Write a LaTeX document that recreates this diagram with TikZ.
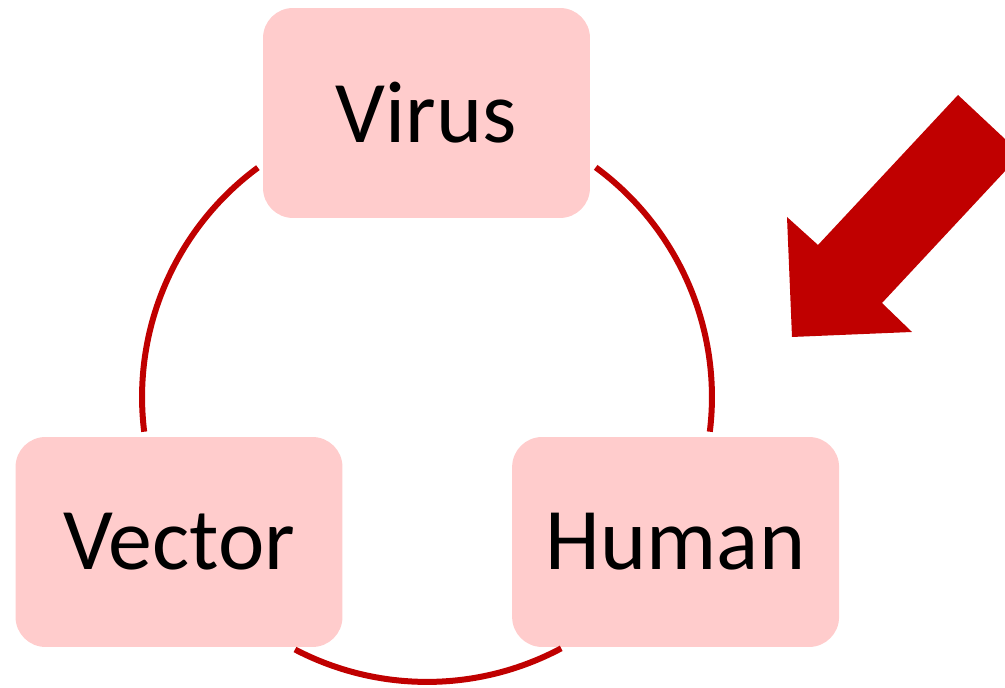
\documentclass[tikz,border=0pt]{standalone}
\usepackage{fontspec}
\setmainfont{Carlito}
\usetikzlibrary{positioning}
\definecolor{cyclered}{HTML}{C00000}
\definecolor{boxpink}{HTML}{FFCCCC}
\tikzstyle{stage} = [rectangle, fill=boxpink, rounded corners=0.6cm,
    minimum width=6.54cm, minimum height=4.2cm, text centered,
    font=\fontsize{50}{60}\selectfont]
\tikzstyle{ring} = [draw=cyclered, line width=0.12cm]

\begin{document}
\begin{tikzpicture}[x=0.02cm, y=0.02cm]
    \clip (0,0) rectangle (1005,688);
    \coordinate (hub) at (427,291);

    \node[stage] (virus) at (426.5,575) {Virus};
    \node[stage] (vector) at (179,146) {Vector};
    \node[stage, right=3.38cm of vector] (human) {Human};

    % the cycle, broken where the boxes sit
    \path[ring] ([shift={(53.7:5.7cm)}]hub) arc[start angle=53.7, end angle=-7, radius=5.7cm];
    \path[ring] ([shift={(-61.9:5.7cm)}]hub) arc[start angle=-61.9, end angle=-117.6, radius=5.7cm];
    \path[ring] ([shift={(187:5.7cm)}]hub) arc[start angle=187, end angle=126.4, radius=5.7cm];

    % block arrow pointing at the cycle
    \fill[cyclered] (792,351) -- (787,471) -- (818,443) -- (958,593)
        -- (1021,534) -- (882,385) -- (912,356) -- cycle;
\end{tikzpicture}
\end{document}
